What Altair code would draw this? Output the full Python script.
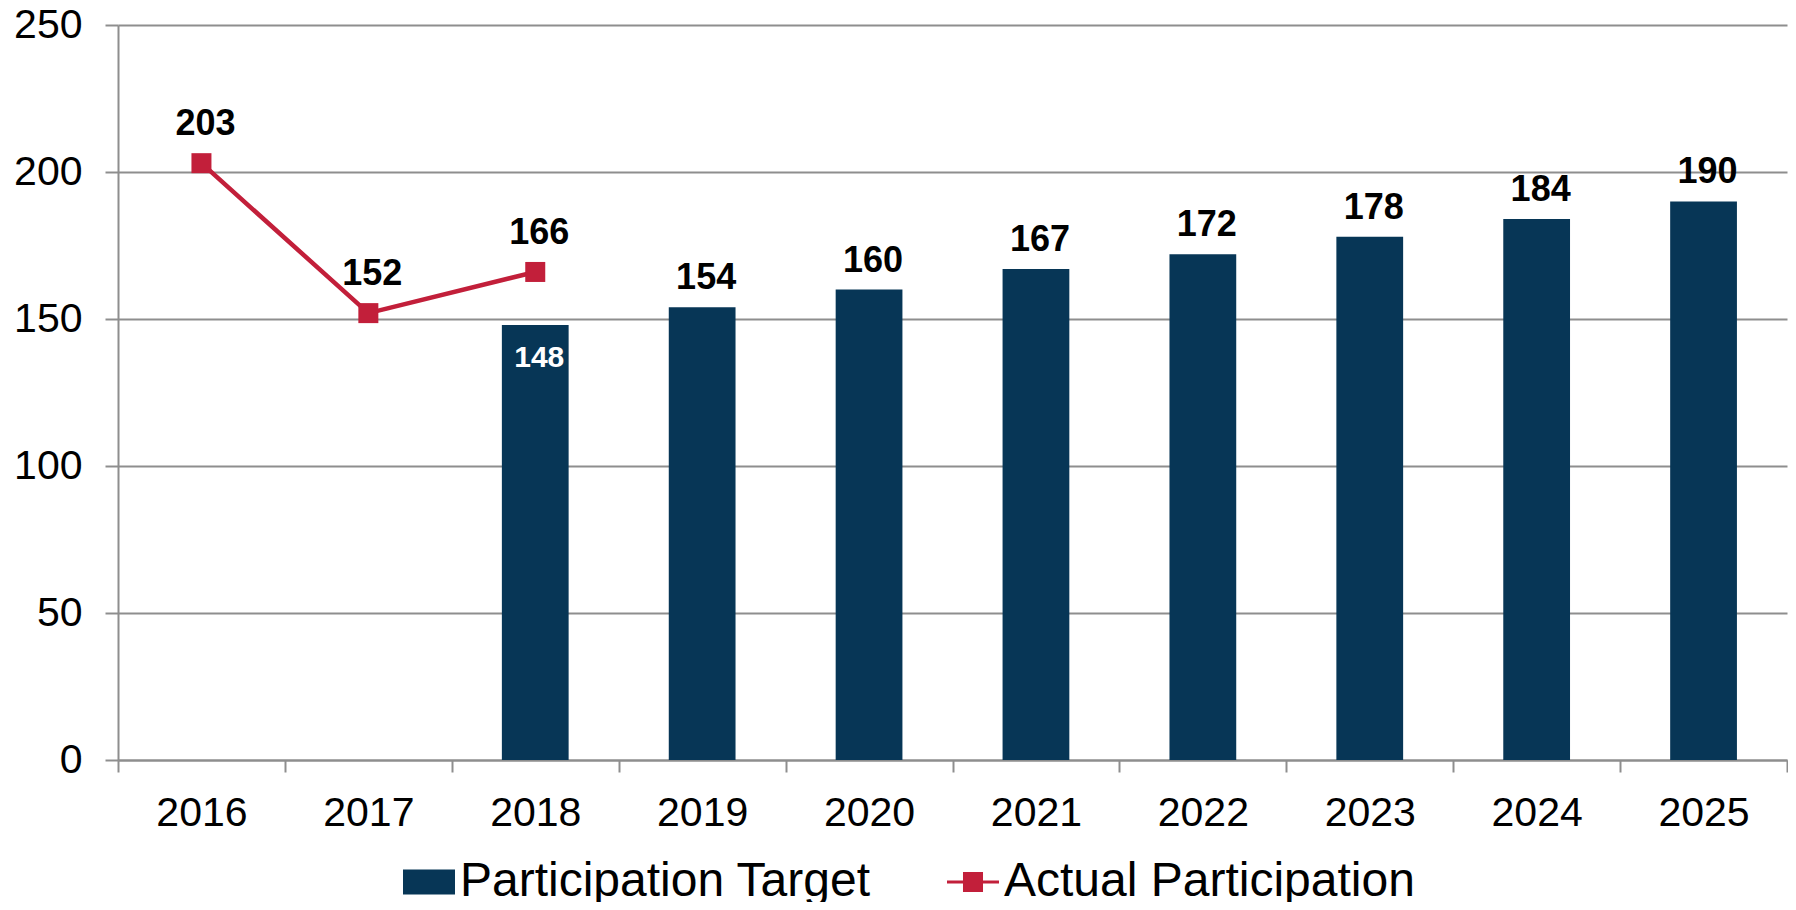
import altair as alt
import pandas as pd

# ---- data ----
years = ["2016", "2017", "2018", "2019", "2020", "2021", "2022", "2023", "2024", "2025"]
target = [None, None, 148, 154, 160, 167, 172, 178, 184, 190]
actual = [203, 152, 166, None, None, None, None, None, None, None]
series_names = ["Participation Target", "Actual Participation"]
inside_label_years = ["2018"]
y_ticks = [0, 50, 100, 150, 200, 250]

# ---- styles ----
NAVY = "#073656"
RED = "#C21F3A"
GRID = "#8E8E8E"
FONT = "Liberation Sans"
W, H = 1669, 735

BAR_SYM = "M-1,-0.48H1V0.48H-1Z"
LINE_SYM = "M-1,-0.055H1V0.055H-1Z M-0.385,-0.385H0.385V0.385H-0.385Z"

bar_df = pd.DataFrame({"year": years, "value": target}).dropna()
bar_df["inside"] = bar_df["year"].isin(inside_label_years)
line_df = pd.DataFrame({"year": years, "value": actual}).dropna()
legend_df = pd.DataFrame({"series": series_names})

x_enc = alt.X(
    "year:N",
    sort=years,
    scale=alt.Scale(domain=years, paddingInner=0, paddingOuter=0),
    axis=alt.Axis(
        title=None,
        labelAngle=0,
        tickBand="extent",
        tickSize=12,
        tickWidth=2,
        tickColor=GRID,
        domainColor=GRID,
        domainWidth=2,
        grid=False,
        labelFont=FONT,
        labelFontSize=41,
        labelColor="black",
        labelPadding=21,
    ),
)
y_enc = alt.Y(
    "value:Q",
    scale=alt.Scale(domain=[0, 250], nice=False, zero=True),
    axis=alt.Axis(
        title=None,
        values=y_ticks,
        tickSize=13,
        tickWidth=2,
        tickColor=GRID,
        domainColor=GRID,
        domainWidth=2,
        grid=True,
        gridColor=GRID,
        gridWidth=2,
        labelFont=FONT,
        labelFontSize=41,
        labelColor="black",
        labelPadding=23,
    ),
)

bars = alt.Chart(bar_df).mark_bar(color=NAVY, width={"band": 0.4}).encode(x=x_enc, y=y_enc)

bar_labels_above = (
    alt.Chart(bar_df)
    .transform_filter("!datum.inside")
    .mark_text(font=FONT, fontSize=36, fontWeight="bold", color="black",
               baseline="alphabetic", dy=-18, dx=4)
    .encode(x=alt.X("year:N", sort=years), y="value:Q", text="value:Q")
)
bar_labels_inside = (
    alt.Chart(bar_df)
    .transform_filter("datum.inside")
    .mark_text(font=FONT, fontSize=30, fontWeight="bold", color="white",
               baseline="alphabetic", dy=42, dx=4)
    .encode(x=alt.X("year:N", sort=years), y="value:Q", text="value:Q")
)

line = alt.Chart(line_df).mark_line(color=RED, strokeWidth=4.5).encode(
    x=alt.X("year:N", sort=years), y="value:Q"
)
points = alt.Chart(line_df).mark_point(shape="square", filled=True, size=400, color=RED, opacity=1).encode(
    x=alt.X("year:N", sort=years), y="value:Q"
)
line_labels = (
    alt.Chart(line_df)
    .mark_text(font=FONT, fontSize=36, fontWeight="bold", color="black",
               baseline="alphabetic", dy=-28, dx=4)
    .encode(x=alt.X("year:N", sort=years), y="value:Q", text="value:Q")
)

legend_cfg = dict(
    title=None,
    orient="none",
    direction="horizontal",
    legendX=285,
    legendY=831,
    padding=0,
    symbolSize=2704,
    symbolStrokeWidth=0,
    symbolOpacity=1,
    labelFont=FONT,
    labelFontSize=48,
    labelColor="black",
    labelOffset=5,
    labelLimit=1000,
    columnPadding=76,
)
legend_layer = alt.Chart(legend_df).mark_point(filled=True).encode(
    color=alt.Color("series:N", sort=series_names,
                    scale=alt.Scale(domain=series_names, range=[NAVY, RED]),
                    legend=alt.Legend(**legend_cfg)),
    shape=alt.Shape("series:N", sort=series_names,
                    scale=alt.Scale(domain=series_names, range=[BAR_SYM, LINE_SYM]),
                    legend=alt.Legend(**legend_cfg)),
    opacity=alt.value(0),
)

chart = (
    alt.layer(bars, bar_labels_above, bar_labels_inside, line, points, line_labels, legend_layer)
    .properties(
        width=W,
        height=H,
        autosize=alt.AutoSizeParams(type="none"),
        padding={"left": 110, "top": 17, "right": 1, "bottom": 142},
        background="white",
    )
    .configure_view(strokeWidth=0)
)

chart.save("out.html", embed_options={"renderer": "svg", "actions": False})
